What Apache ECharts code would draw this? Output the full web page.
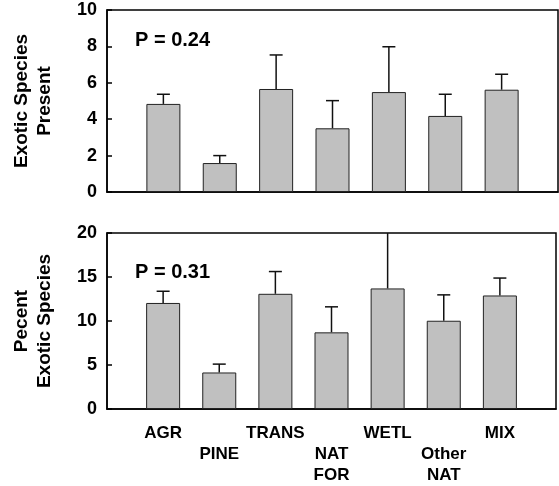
<!DOCTYPE html>
<html><head><meta charset="utf-8">
<script src="https://cdn.jsdelivr.net/npm/echarts@6/dist/echarts.min.js"></script>
<style>html,body{margin:0;padding:0;background:#fff}#c{width:559px;height:486px}</style>
</head><body><div id="c"></div>
<script>
var categories = ['AGR', 'PINE', 'TRANS', 'NAT FOR', 'WETL', 'Other NAT', 'MIX'];
var presentMean = [4.84, 1.59, 5.66, 3.50, 5.49, 4.18, 5.62];
var presentErr  = [0.53, 0.41, 1.87, 1.52, 2.49, 1.19, 0.85];
var percentMean = [12.05, 4.15, 13.09, 8.71, 13.70, 10.03, 12.90];
var percentErr  = [1.33, 0.95, 2.53, 2.90, 6.80, 2.94, 1.98];
var topTicks = [0, 2, 4, 6, 8, 10];
var bottomTicks = [0, 5, 10, 15, 20];
var pTop = 'P = 0.24';
var pBottom = 'P = 0.31';

var FONT = '"Liberation Sans", Arial, Helvetica, sans-serif';
var axisCats = [''].concat(categories).concat(['']);
var labelText = {
  'AGR': 'AGR', 'PINE': '\nPINE', 'TRANS': 'TRANS', 'NAT FOR': '\nNAT\nFOR',
  'WETL': 'WETL', 'Other NAT': '\nOther\nNAT', 'MIX': 'MIX', '': ''
};
function pad(arr) { return [null].concat(arr).concat([null]); }
function errData(m, e) { return m.map(function (v, i) { return [i + 1, v, e[i]]; }); }

function renderErr(params, api) {
  var x = api.value(0), m = api.value(1), e = api.value(2);
  var p0 = api.coord([x, m]);
  var p1 = api.coord([x, m + e]);
  var hw = 6.5;
  return {
    type: 'group',
    children: [
      { type: 'line', shape: { x1: p0[0], y1: p0[1], x2: p1[0], y2: p1[1] }, style: { stroke: '#111', lineWidth: 1.5 } },
      { type: 'line', shape: { x1: p1[0] - hw, y1: p1[1], x2: p1[0] + hw, y2: p1[1] }, style: { stroke: '#111', lineWidth: 1.5 } }
    ]
  };
}

function yAxisOpt(gi, max, interval, name) {
  return {
    gridIndex: gi, type: 'value', min: 0, max: max, interval: interval,
    name: name, nameLocation: 'middle', nameGap: 51,
    nameTextStyle: { fontFamily: FONT, fontWeight: 700, fontSize: 19, color: '#000', lineHeight: 23 },
    axisLine: { show: true, lineStyle: { color: '#000', width: 1.5 } },
    axisTick: { show: true, inside: true, length: 5, lineStyle: { color: '#000', width: 1.5 } },
    axisLabel: {
      margin: 10,
      formatter: function (v) { return '{b|' + v + '}'; },
      rich: { b: { fontFamily: FONT, fontWeight: 'bold', fontSize: 18, color: '#000' } }
    },
    splitLine: { show: false }
  };
}
function xAxisOpt(gi, showLabels) {
  return {
    gridIndex: gi, type: 'category', data: axisCats, boundaryGap: false,
    axisLine: { show: true, lineStyle: { color: '#000', width: 1.5 } },
    axisTick: { show: false },
    axisLabel: {
      show: showLabels, interval: 0, margin: 14,
      fontFamily: FONT, fontWeight: 700, fontSize: 17, color: '#000', lineHeight: 21,
      verticalAlign: 'top',
      formatter: function (v) { return labelText[v]; }
    }
  };
}
var barStyle = { color: '#c0c0c0', borderColor: '#222', borderWidth: 1 };

var option = {
  animation: false,
  grid: [
    { left: 107, top: 10, width: 451, height: 182, show: true, borderColor: '#000', borderWidth: 1.5, backgroundColor: 'transparent' },
    { left: 107, top: 233, width: 451, height: 181, show: true, borderColor: '#000', borderWidth: 1.5, backgroundColor: 'transparent' }
  ],
  xAxis: [xAxisOpt(0, false), xAxisOpt(1, true)],
  yAxis: [
    yAxisOpt(0, topTicks[topTicks.length - 1], topTicks[1] - topTicks[0], 'Exotic Species\nPresent'),
    yAxisOpt(1, bottomTicks[bottomTicks.length - 1], bottomTicks[1] - bottomTicks[0], 'Pecent\nExotic Species')
  ],
  graphic: [
    { type: 'text', left: 135, top: 30, style: { text: pTop, font: 'bold 20px ' + FONT, fill: '#000' } },
    { type: 'text', left: 135, top: 262, style: { text: pBottom, font: 'bold 20px ' + FONT, fill: '#000' } }
  ],
  series: [
    { type: 'bar', xAxisIndex: 0, yAxisIndex: 0, data: pad(presentMean), barWidth: 34, itemStyle: barStyle },
    { type: 'custom', xAxisIndex: 0, yAxisIndex: 0, data: errData(presentMean, presentErr), renderItem: renderErr, clip: true, z: 1 },
    { type: 'bar', xAxisIndex: 1, yAxisIndex: 1, data: pad(percentMean), barWidth: 34, itemStyle: barStyle },
    { type: 'custom', xAxisIndex: 1, yAxisIndex: 1, data: errData(percentMean, percentErr), renderItem: renderErr, clip: true, z: 1 }
  ]
};
var chart = echarts.init(document.getElementById('c'), null, { renderer: 'canvas' });
chart.setOption(option);
</script></body></html>
